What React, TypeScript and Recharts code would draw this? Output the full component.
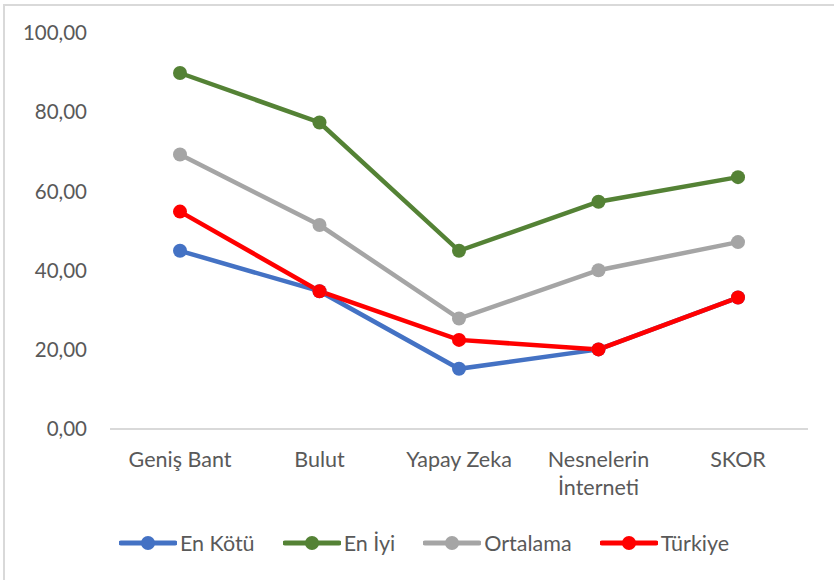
import React from 'react';
import { LineChart, Line, XAxis, YAxis, Legend } from 'recharts';

const categories = ['Geniş Bant', 'Bulut', 'Yapay Zeka', 'Nesnelerin İnterneti', 'SKOR'];
const enKotu = [45, 34.8, 15.2, 20.1, 33.2];
const enIyi = [89.9, 77.4, 45.0, 57.4, 63.6];
const ortalama = [69.3, 51.5, 27.9, 40.1, 47.2];
const turkiye = [54.9, 34.8, 22.5, 20.1, 33.2];
const yTicks = [0, 20, 40, 60, 80, 100];

const SERIES = [
    { key: 'enKotu', name: 'En Kötü', color: '#4472C4' },
    { key: 'enIyi', name: 'En İyi', color: '#548235' },
    { key: 'ortalama', name: 'Ortalama', color: '#A5A5A5' },
    { key: 'turkiye', name: 'Türkiye', color: '#FF0000' },
];

const data = categories.map((name, i) => ({
    name,
    enKotu: enKotu[i],
    enIyi: enIyi[i],
    ortalama: ortalama[i],
    turkiye: turkiye[i],
}));

const FONT = 'Lato, "Open Sans", sans-serif';
const TEXT = '#595959';

const CategoryTick = ({ x, y, payload }: any) => {
    const words: string[] = payload.value === 'Nesnelerin İnterneti' ? ['Nesnelerin', 'İnterneti'] : [payload.value];
    return (
        <text x={x} y={y} textAnchor="middle" fill={TEXT} fontSize={21.5} fontFamily={FONT}>
            {words.map((w, i) => (
                <tspan key={w} x={x} dy={i === 0 ? 30 : 28}>{w}</tspan>
            ))}
        </text>
    );
};

const LegendContent = () => (
    <div style={{ display: 'flex', justifyContent: 'center', alignItems: 'center', fontFamily: FONT, fontSize: 21.5, color: TEXT, paddingLeft: 14 }}>
        {SERIES.map((s, i) => (
            <div key={s.key} style={{ display: 'flex', alignItems: 'center', marginRight: i < SERIES.length - 1 ? 28 : 0 }}>
                <svg width={58} height={16} style={{ marginRight: 3 }}>
                    <line x1={2} y1={8} x2={56} y2={8} stroke={s.color} strokeWidth={5} strokeLinecap="round" />
                    <circle cx={29} cy={8} r={7} fill={s.color} />
                </svg>
                <span>{s.name}</span>
            </div>
        ))}
    </div>
);

const App: React.FC = () => (
    <div style={{ position: 'absolute', left: 0, top: 0, width: 834, height: 580, background: '#fff' }}>
        <div style={{ position: 'absolute', left: 3, top: 4, width: 831, height: 576, borderTop: '2px solid #d9d9d9', borderLeft: '2px solid #d9d9d9', boxSizing: 'border-box' }} />
        <LineChart width={834} height={580} data={data} margin={{ top: 33, right: 26, bottom: 0, left: 0 }}>
            <XAxis
                dataKey="name"
                axisLine={{ stroke: '#d9d9d9', strokeWidth: 2 }}
                tickLine={false}
                tick={<CategoryTick />}
                interval={0}
                height={127}
                padding={{ left: 70, right: 70 }}
            />
            <YAxis
                domain={[0, 100]}
                ticks={yTicks}
                width={110}
                axisLine={false}
                tickLine={false}
                tickSize={0}
                tickMargin={23}
                tick={{ fill: TEXT, fontSize: 20.5, fontFamily: FONT }}
                tickFormatter={(v: number) => v.toFixed(2).replace('.', ',')}
            />
            <Legend
                content={<LegendContent />}
                wrapperStyle={{ position: 'absolute', top: 530, left: 0, width: 834, height: 24 }}
            />
            {SERIES.map(s => (
                <Line
                    key={s.key}
                    dataKey={s.key}
                    name={s.name}
                    stroke={s.color}
                    strokeWidth={4.5}
                    strokeLinecap="round"
                    dot={{ r: 7, fill: s.color, stroke: s.color, strokeWidth: 0 }}
                    activeDot={false}
                    isAnimationActive={false}
                />
            ))}
        </LineChart>
    </div>
);

export default App;
